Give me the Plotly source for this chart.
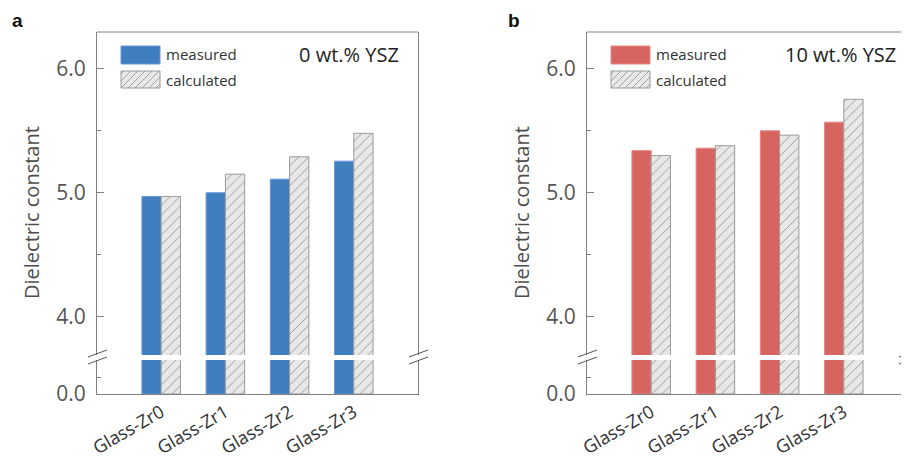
import plotly.graph_objects as go

categories = ["Glass-Zr0", "Glass-Zr1", "Glass-Zr2", "Glass-Zr3"]
measured_0 = [4.97, 5.00, 5.11, 5.255]
calculated_0 = [4.97, 5.15, 5.29, 5.48]
measured_10 = [5.34, 5.36, 5.50, 5.57]
calculated_10 = [5.30, 5.38, 5.465, 5.755]
panel_labels = ["a", "b"]
panel_titles = ["0 wt.% YSZ", "10 wt.% YSZ"]
series_names = ["measured", "calculated"]

OFF = 8  # page body margin
W, H = 909 - OFF, 460 - OFF
FONT = "Open Sans"
AX = "#808080"
BLUE = "#3f7fc0"
RED = "#d6655f"
HATCH_BG = "#e8e8e8"
HATCH_FG = "#8f8f8f"


def px(x):
    return (x - OFF) / W


def py(y):
    return 1 - (y - OFF) / H


fig = go.Figure()

panels = [
    dict(x0=97, x1=418, meas=measured_0, calc=calculated_0, color=BLUE, edge="#6a95dc",
         xa="x", ya_up="y", ya_lo="y2"),
    dict(x0=587, x1=908, meas=measured_10, calc=calculated_10, color=RED, edge="#e58985",
         xa="x2", ya_up="y3", ya_lo="y4"),
]

TOP, UP_BOT, LO_TOP, BOT = 32, 355, 360, 394

for i, p in enumerate(panels):
    for ya in (p["ya_up"], p["ya_lo"]):
        fig.add_trace(go.Bar(
            x=categories, y=p["meas"], name=series_names[0], xaxis=p["xa"], yaxis=ya,
            marker=dict(color=p["color"], line=dict(color=p["edge"], width=1)),
            showlegend=False, offsetgroup="m"))
        fig.add_trace(go.Bar(
            x=categories, y=p["calc"], name=series_names[1], xaxis=p["xa"], yaxis=ya,
            marker=dict(color=HATCH_BG, line=dict(color="#9a9a9a", width=1),
                        pattern=dict(shape="/", fgcolor=HATCH_FG, bgcolor=HATCH_BG,
                                     size=7, solidity=0.12, fillmode="replace")),
            showlegend=False, offsetgroup="c"))

tickfont = dict(family=FONT, size=21, color="#555555")
layout = dict(
    width=W, height=H, margin=dict(l=0, r=0, t=0, b=0),
    paper_bgcolor="white", plot_bgcolor="white",
    barmode="group", bargap=0.4, bargroupgap=0.0,
    showlegend=False,
)

shapes = []
annotations = []

for i, p in enumerate(panels):
    xn = "xaxis" + p["xa"][1:]
    up = "yaxis" + p["ya_up"][1:]
    lo = "yaxis" + p["ya_lo"][1:]
    layout[xn] = dict(
        domain=[px(p["x0"]), px(p["x1"])], anchor=p["ya_lo"], range=[-1, 4],
        showline=True, linecolor=AX, linewidth=1, ticks="", showgrid=False,
        tickangle=-30, tickfont=dict(family=FONT, size=18, color="#333333"),
        ticklabelstandoff=0,
        automargin=False, zeroline=False)
    layout[up] = dict(
        domain=[py(UP_BOT), py(TOP)], anchor=p["xa"], range=[3.69, 6.298],
        showline=True, mirror=True, linecolor=AX, linewidth=1,
        ticks="inside", ticklen=7, tickcolor=AX, tickmode="linear", tick0=0, dtick=1,
        tickformat=".1f", tickfont=tickfont, ticklabelstandoff=6,
        minor=dict(ticks="inside", ticklen=4, tickcolor=AX, dtick=0.5, tick0=0, showgrid=False),
        showgrid=False, zeroline=False, automargin=False)
    layout[lo] = dict(
        domain=[py(BOT), py(LO_TOP)], anchor=p["xa"], range=[0, 1.0],
        showline=True, mirror=True, linecolor=AX, linewidth=1,
        ticks="inside", ticklen=7, tickcolor=AX, tickvals=[0], ticktext=["0.0"],
        tickfont=tickfont, ticklabelstandoff=6,
        minor=dict(ticks="inside", ticklen=4, tickcolor=AX, tickvals=[0.5], showgrid=False),
        showgrid=False, zeroline=False, automargin=False)

    x0, x1 = p["x0"], p["x1"]
    shapes.append(dict(type="line", xref="paper", yref="paper", x0=px(x0), x1=px(x1),
                       y0=py(TOP), y1=py(TOP), line=dict(color=AX, width=1)))
    for bx in (x0, x1):
        for dy in (0, 7):
            shapes.append(dict(type="line", xref="paper", yref="paper",
                               x0=px(bx - 9), y0=py(357 + dy), x1=px(bx + 10), y1=py(350 + dy),
                               line=dict(color="#555555", width=1)))

    annotations.append(dict(text="<b>%s</b>" % panel_labels[i], xref="paper", yref="paper",
                            x=px(x0 - 87 + (6 if i else 0)), y=py(21), xanchor="left", yanchor="middle",
                            showarrow=False, font=dict(family="Liberation Sans", size=19, color="#111")))
    annotations.append(dict(text="Dielectric constant", xref="paper", yref="paper",
                            x=px(x0 - 66), y=py(213), textangle=-90, xanchor="center",
                            yanchor="middle", showarrow=False,
                            font=dict(family=FONT, size=20, color="#4d4d4d")))
    annotations.append(dict(text=panel_titles[i], xref="paper", yref="paper",
                            x=px(x1 - 17 + (7 if i else 0)), y=py(54), xanchor="right", yanchor="middle",
                            showarrow=False, font=dict(family=FONT, size=20, color="#222")))

    sx0, sx1 = x0 + 24, x0 + 63
    shapes.append(dict(type="rect", xref="paper", yref="paper", x0=px(sx0), x1=px(sx1),
                       y0=py(64), y1=py(46), fillcolor=p["color"],
                       line=dict(color=p["edge"], width=1)))
    hy0, hy1 = 71, 88
    shapes.append(dict(type="rect", xref="paper", yref="paper", x0=px(sx0), x1=px(sx1),
                       y0=py(hy1), y1=py(hy0), fillcolor=HATCH_BG,
                       line=dict(color="#9a9a9a", width=1)))
    c = sx0 + hy0 + 3
    while c < sx1 + hy1:
        xa_ = max(sx0, c - hy1)
        xb_ = min(sx1, c - hy0)
        if xb_ > xa_:
            shapes.append(dict(type="line", xref="paper", yref="paper",
                               x0=px(xa_), y0=py(c - xa_), x1=px(xb_), y1=py(c - xb_),
                               line=dict(color=HATCH_FG, width=0.8)))
        c += 7
    for j, (name, yy) in enumerate(zip(series_names, (54, 80))):
        annotations.append(dict(text=name, xref="paper", yref="paper", x=px(sx1 + 4), y=py(yy),
                                xanchor="left", yanchor="middle", showarrow=False,
                                font=dict(family=FONT, size=15, color="#333")))

layout["shapes"] = shapes
layout["annotations"] = annotations
fig.update_layout(**layout)
fig.write_html("out.html")
